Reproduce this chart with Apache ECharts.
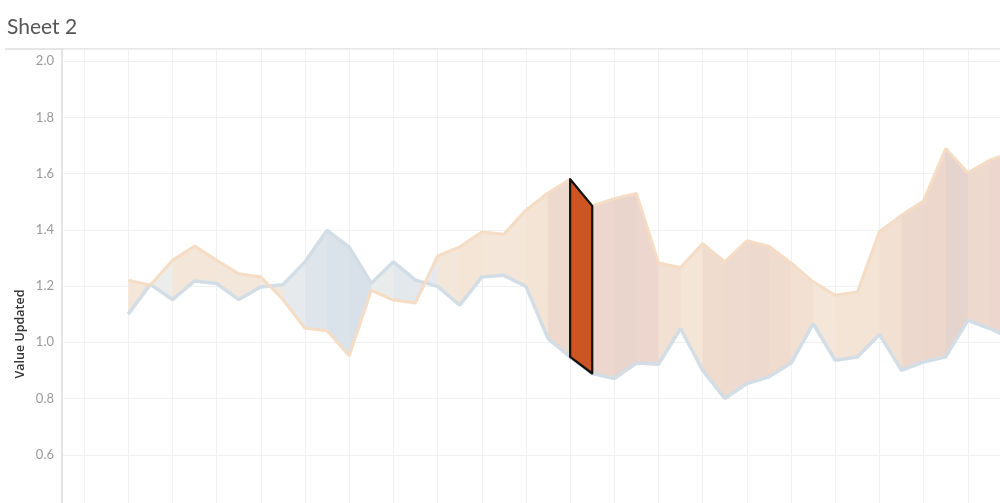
<!DOCTYPE html>
<html>
<head>
<meta charset="utf-8">
<script src="https://cdn.jsdelivr.net/npm/echarts@6/dist/echarts.min.js"></script>
<style>
  html, body { margin: 0; padding: 0; background: #fff; overflow: hidden; width: 1000px; height: 503px; }
  #chart { position: absolute; left: 0; top: 0; width: 1012px; height: 511px; }
</style>
</head>
<body>
<div id="chart"></div>
<script>
// ---------- data ----------
const categories = [];
for (let k = 1; k <= 44; k++) categories.push(String(k));

// index 0..43 ; first three positions are empty
const orangeValues = [null, null, null,
  1.221, 1.203, 1.292, 1.342, 1.292, 1.244, 1.232, 1.152, 1.050, 1.041,
  0.952, 1.185, 1.150, 1.140, 1.306, 1.339, 1.392, 1.384, 1.470, 1.531,
  1.580, 1.485, 1.511, 1.529, 1.282, 1.266, 1.351, 1.286, 1.361, 1.342,
  1.282, 1.215, 1.167, 1.179, 1.393, 1.452, 1.503, 1.689, 1.603, 1.648, 1.676];

const blueValues = [null, null, null,
  1.100, 1.206, 1.152, 1.218, 1.209, 1.152, 1.197, 1.205, 1.286, 1.398,
  1.338, 1.210, 1.286, 1.221, 1.199, 1.132, 1.232, 1.238, 1.199, 1.013,
  0.948, 0.889, 0.871, 0.926, 0.922, 1.049, 0.900, 0.800, 0.853, 0.877,
  0.926, 1.066, 0.936, 0.948, 1.028, 0.900, 0.930, 0.948, 1.078, 1.049, 1.012];

const yTicks = [0.4, 0.6, 0.8, 1.0, 1.2, 1.4, 1.6, 1.8, 2.0];
const selectedIndex = 23;

// ---------- colours ----------
const colorStops = [
  [-0.40, [216, 225, 233]],
  [-0.20, [223, 230, 236]],
  [-0.06, [230, 234, 237]],
  [ 0.00, [236, 236, 234]],
  [ 0.03, [242, 232, 222]],
  [ 0.15, [244, 230, 216]],
  [ 0.30, [243, 227, 212]],
  [ 0.45, [240, 219, 207]],
  [ 0.60, [236, 214, 205]],
  [ 0.75, [229, 211, 205]]
];
function colorFor(d) {
  if (d <= colorStops[0][0]) return 'rgb(' + colorStops[0][1].join(',') + ')';
  for (let k = 1; k < colorStops.length; k++) {
    if (d <= colorStops[k][0]) {
      const a = colorStops[k - 1], b = colorStops[k];
      const t = (d - a[0]) / (b[0] - a[0]);
      const c = a[1].map((v, j) => Math.round(v + (b[1][j] - v) * t));
      return 'rgb(' + c.join(',') + ')';
    }
  }
  return 'rgb(' + colorStops[colorStops.length - 1][1].join(',') + ')';
}

// segment data built from the arrays
const segments = [];
for (let i = 0; i < orangeValues.length - 1; i++) {
  if (orangeValues[i] == null || orangeValues[i + 1] == null) continue;
  if (i === selectedIndex) continue;
  segments.push([i, orangeValues[i], blueValues[i], orangeValues[i + 1], blueValues[i + 1],
                 orangeValues[i] - blueValues[i]]);
}
const selectedSeg = [[selectedIndex, orangeValues[selectedIndex], blueValues[selectedIndex],
  orangeValues[selectedIndex + 1], blueValues[selectedIndex + 1]]];

function polyRender(fillFn, stroke, lw, overlap) {
  return function (params, api) {
    const i = api.value(0);
    const p1 = api.coord([i, api.value(1)]);
    const p2 = api.coord([i + 1, api.value(3)]);
    const p3 = api.coord([i + 1, api.value(4)]);
    const p4 = api.coord([i, api.value(2)]);
    p2[0] += overlap; p3[0] += overlap;
    return {
      type: 'polygon',
      shape: { points: [p1, p2, p3, p4] },
      style: { fill: fillFn(api), stroke: stroke, lineWidth: lw, lineJoin: 'round' }
    };
  };
}

const chart = echarts.init(document.getElementById('chart'), null,
  { renderer: 'canvas', width: 1012, height: 511 });

chart.setOption({
  backgroundColor: '#ffffff',
  animation: false,
  grid: { left: 62, top: 49, right: 0, bottom: 0, containLabel: false, outerBoundsMode: 'none' },
  xAxis: {
    type: 'category',
    data: categories,
    boundaryGap: false,
    axisLine: { show: false },
    axisTick: { show: false },
    axisLabel: { show: false },
    splitLine: {
      show: true,
      interval: function (index) { return index % 2 === 1; },
      lineStyle: { color: '#f0f0f0', width: 1 }
    }
  },
  yAxis: {
    type: 'value',
    min: 0.4,
    max: 2.043,
    interval: 0.2,
    axisLine: { show: true, lineStyle: { color: '#e4e4e4', width: 2 } },
    axisTick: { show: false },
    axisLabel: {
      color: '#9a9a9a',
      fontSize: 13,
      fontFamily: 'Lato, "Open Sans", sans-serif',
      margin: 8,
      showMaxLabel: false,
      formatter: function (v) {
        for (const t of yTicks) if (Math.abs(v - t) < 1e-6) return t.toFixed(1);
        return '';
      }
    },
    splitLine: { show: true, lineStyle: { color: '#f0f0f0', width: 1 } }
  },
  series: [
    {
      type: 'custom',
      z: 1,
      data: segments,
      encode: { x: 0, y: [1, 2, 3, 4] },
      renderItem: polyRender(function (api) { return colorFor(api.value(5)); }, null, 0, 0.7),
      silent: true
    },
    {
      type: 'line',
      z: 2,
      data: blueValues,
      symbol: 'none',
      lineStyle: { color: '#d2dde6', width: 3.5 },
      connectNulls: false,
      silent: true
    },
    {
      type: 'line',
      z: 3,
      data: orangeValues,
      symbol: 'none',
      lineStyle: { color: '#f5dcc4', width: 3 },
      connectNulls: false,
      silent: true
    },
    {
      type: 'custom',
      z: 5,
      data: selectedSeg,
      encode: { x: 0, y: [1, 2, 3, 4] },
      renderItem: polyRender(function () { return '#cd5522'; }, '#111111', 2.2, 0),
      silent: true
    }
  ],
  graphic: [
    {
      type: 'text',
      left: 7, top: 17,
      style: { text: 'Sheet 2', fill: '#555555', fontSize: 21, fontFamily: 'Lato, "Open Sans", sans-serif' }
    },
    {
      type: 'line',
      shape: { x1: 5, y1: 49, x2: 1012, y2: 49 },
      style: { stroke: '#e6e6e6', lineWidth: 2 }
    },
    {
      type: 'text',
      x: 20, y: 334,
      rotation: Math.PI / 2,
      style: {
        text: 'Value Updated', fill: '#333333', fontSize: 12.5, fontWeight: 600,
        fontFamily: '"Open Sans", Lato, sans-serif', align: 'center', verticalAlign: 'middle'
      }
    }
  ]
});
</script>
</body>
</html>
